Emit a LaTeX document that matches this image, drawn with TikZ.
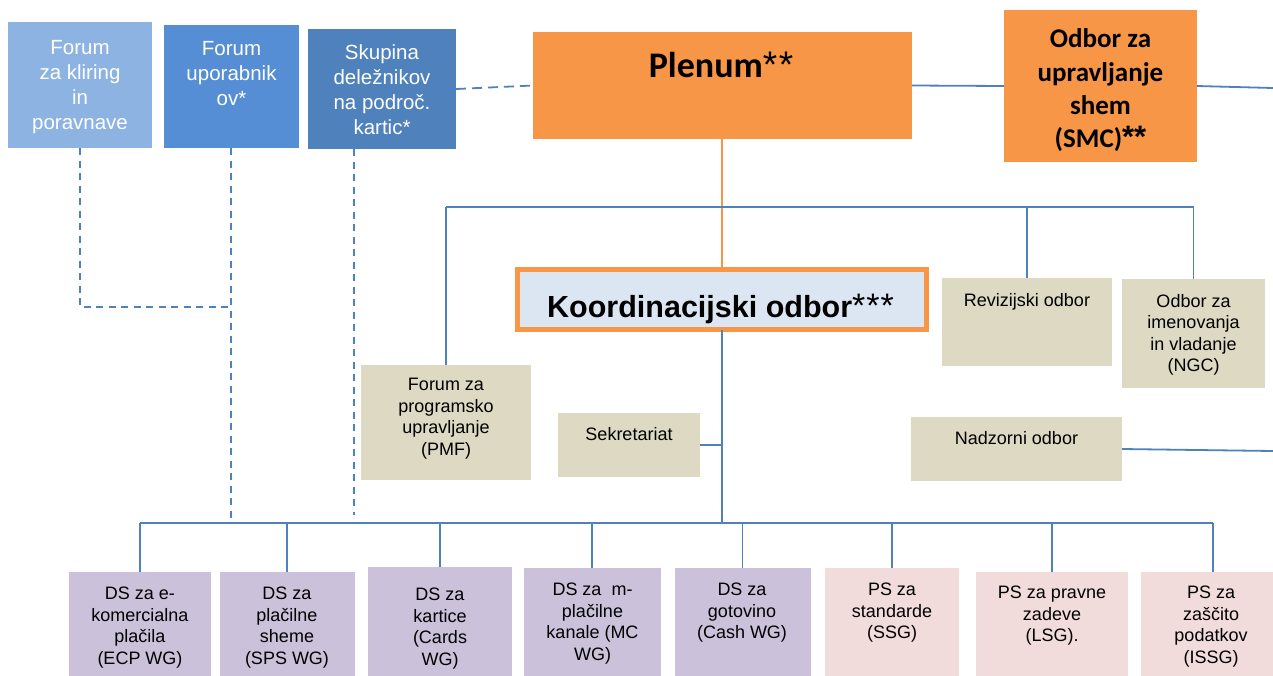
\documentclass[tikz,border=0pt]{standalone}
\usepackage{fontspec}
\setmainfont{Liberation Sans}
\newfontfamily\calibri{Carlito}
\definecolor{lblue}{HTML}{8DB3E2}
\definecolor{mblue}{HTML}{558ED5}
\definecolor{dblue}{HTML}{4F81BD}
\definecolor{orng}{HTML}{F79646}
\definecolor{koordfill}{HTML}{DCE6F2}
\definecolor{tanbox}{HTML}{DDD9C3}
\definecolor{purpbox}{HTML}{CCC1DA}
\definecolor{pinkbox}{HTML}{F2DCDB}
\definecolor{lineblue}{HTML}{4F81BD}
\tikzset{
  box/.style={rectangle, inner sep=0pt, outer sep=0pt, anchor=north west},
  toptxt/.style={inner sep=0pt, align=center, text=white, anchor=north, font=\fontsize{20.5}{25}\selectfont},
  smalltxt/.style={inner sep=0pt, align=center, anchor=north, font=\fontsize{18}{21.5}\selectfont},
  onetxt/.style={inner sep=0pt, anchor=base, font=\fontsize{18}{21.5}\selectfont},
  conn/.style={draw=lineblue, line width=1.8pt},
  oconn/.style={draw=orng, line width=1.8pt},
  dconn/.style={draw=lineblue, line width=1.8pt, dash pattern=on 7pt off 5.5pt},
  dconnlong/.style={draw=lineblue, line width=1.8pt, dash pattern=on 10pt off 6pt},
}
\begin{document}
\begin{tikzpicture}[x=1pt,y=-1pt]
\fill[white] (0,0) rectangle (1273,675);
\useasboundingbox (0,0) rectangle (1273,675);

% top row blue boxes
\node[box, fill=lblue, minimum width=144pt, minimum height=126pt] (kliring) at (8,22) {};
\node[box, fill=mblue, minimum width=135pt, minimum height=123pt] (upor) at (164,25) {};
\node[box, fill=dblue, minimum width=148pt, minimum height=120pt] (skupina) at (308,29) {};
\node[toptxt] (kliringt) at (80,40) {Forum\\za kliring\\in\\poravnave};
\node[toptxt] (uport) at (231.5,41) {Forum\\uporabnik\\ov*};
\node[toptxt] (skupinat) at (382,44) {Skupina\\deležnikov\\na področ.\\kartic*};

% Plenum and SMC
\node[box, fill=orng, minimum width=379pt, minimum height=107pt] (plenum) at (533,32) {};
\node[inner sep=0pt, anchor=base] (plenumt) at (721,77) {{\calibri\bfseries\fontsize{36}{40}\selectfont Plenum}{\fontsize{37}{40}\selectfont *\hspace{1.5pt}*}};
\node[box, fill=orng, minimum width=193pt, minimum height=152pt] (smc) at (1004,10) {};
\node[inner sep=0pt, anchor=north, align=center, font=\calibri\bfseries\fontsize{27}{33.4}\selectfont] (smct) at (1100.5,28.5) {Odbor za\\upravljanje\\shem\\(SMC){\normalfont\bfseries\fontsize{31}{33}\selectfont **}};

% Koordinacijski odbor
\node[box, fill=koordfill, draw=orng, line width=5pt, minimum width=409pt, minimum height=60pt] (koord) at (517.5,269.5) {};
\node[inner sep=0pt, anchor=base] (koordt) at (720.5,317) {{\bfseries\fontsize{30.5}{34}\selectfont Koordinacijski odbor}{\fontsize{34}{36}\selectfont *\hspace{1pt}*\hspace{1pt}*}};

% tan boxes
\node[box, fill=tanbox, minimum width=170pt, minimum height=115pt] (pmf) at (361,365) {};
\node[smalltxt] (pmft) at (446,378) {Forum za\\programsko\\upravljanje\\(PMF)};
\node[box, fill=tanbox, minimum width=142pt, minimum height=64pt] (sek) at (558,413) {};
\node[onetxt] (sekt) at (629,440) {Sekretariat};
\node[box, fill=tanbox, minimum width=170pt, minimum height=88pt] (rev) at (942,278) {};
\node[onetxt] (revt) at (1027,306) {Revizijski odbor};
\node[box, fill=tanbox, minimum width=143pt, minimum height=109pt] (ngc) at (1122,279) {};
\node[smalltxt] (ngct) at (1193.5,294) {Odbor za\\imenovanja\\in vladanje\\(NGC)};
\node[box, fill=tanbox, minimum width=211pt, minimum height=64pt] (nadz) at (911,417) {};
\node[onetxt] (nadzt) at (1016.5,444) {Nadzorni odbor};

% bottom boxes
\node[box, fill=purpbox, minimum width=142.3pt, minimum height=104pt] (ecp) at (68.7,572) {};
\node[box, fill=purpbox, minimum width=134.6pt, minimum height=104pt] (sps) at (220,572) {};
\node[box, fill=purpbox, minimum width=144pt, minimum height=109pt] (cards) at (368,567) {};
\node[box, fill=purpbox, minimum width=137pt, minimum height=108pt] (mc) at (523.8,568) {};
\node[box, fill=purpbox, minimum width=136pt, minimum height=108pt] (cash) at (674.5,568) {};
\node[box, fill=pinkbox, minimum width=134pt, minimum height=108pt] (ssg) at (825,568) {};
\node[box, fill=pinkbox, minimum width=151.6pt, minimum height=104pt] (lsg) at (976,572) {};
\node[box, fill=pinkbox, minimum width=140pt, minimum height=104pt] (issg) at (1141,572) {};

\node[smalltxt] (ecpt) at (140,587) {DS za e-\\komercialna\\plačila\\(ECP WG)};
\node[smalltxt] (spst) at (287,587) {DS za\\plačilne\\sheme\\(SPS WG)};
\node[smalltxt] (cardst) at (440,588) {DS za\\kartice\\(Cards\\WG)};
\node[smalltxt] (mct) at (592.5,583) {DS za\ \ m-\\plačilne\\kanale (MC\\WG)};
\node[smalltxt] (casht) at (742,583) {DS za\\gotovino\\(Cash WG)};
\node[smalltxt] (ssgt) at (892,583) {PS za\\standarde\\(SSG)};
\node[smalltxt] (lsgt) at (1052,586) {PS za pravne\\zadeve\\(LSG).};
\node[smalltxt] (issgt) at (1211,586) {PS za\\zaščito\\podatkov\\(ISSG)};

% coordinates
\coordinate (busL) at (140,523);
\coordinate (busR) at (1213,523);
\coordinate (hl) at (446,207);
\coordinate (rightA) at (1273,88);
\coordinate (rightB) at (1273,451);
\coordinate (dj) at (80,307);
\coordinate (dend) at (231,518);
\coordinate (sd) at (354,515);

% connectors
\draw[dconnlong] (skupina.east) -- (plenum.west);
\draw[conn] (plenum.east) -- (smc.west);
\draw[conn] (smc.east) -- (rightA);
\draw[oconn] (plenum.south -| koord.north) -- (koord.north);
\draw[conn] (pmf.north |- hl) -- (ngc.north |- hl);
\draw[conn] (pmf.north) -- (pmf.north |- hl);
\draw[conn] (rev.north) -- (rev.north |- hl);
\draw[conn] (ngc.north) -- (ngc.north |- hl);
\draw[conn] (koord.south) -- (koord.south |- busL);
\draw[conn] (sek.east) -- (sek.east -| koord.south);
\draw[conn] (nadz.east) -- (rightB);
\draw[conn] (busL) -- (busR);
\foreach \n in {ecp,sps,cards,mc,cash,ssg,lsg} {\draw[conn] (\n.north) -- (\n.north |- busL);}
\draw[conn] (issg.north -| busR) -- (busR);

\draw[dconn] (kliring.south) -- (dj) -- (dj -| dend);
\draw[dconn] (upor.south -| dend) -- (dend);
\draw[dconn] (skupina.south -| sd) -- (sd);
\end{tikzpicture}
\end{document}
